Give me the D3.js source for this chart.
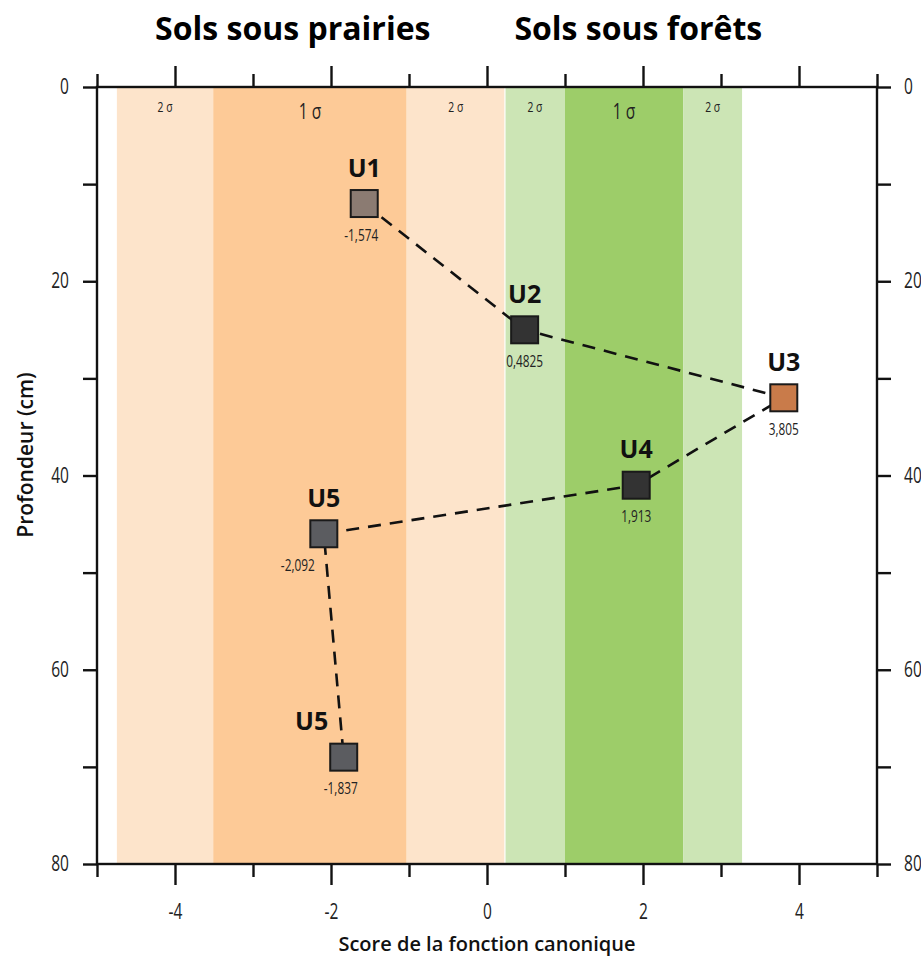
<!DOCTYPE html>
<html>
<head>
<meta charset="utf-8">
<script src="https://cdn.jsdelivr.net/npm/d3@7"></script>
<style>
  body { margin: 0; background: #fff; }
  svg { display: block; font-family: "Open Sans", sans-serif; }
</style>
</head>
<body>
<div id="chart"></div>
<script>
// Horizons (labels, canonical score, depth in cm)
const horizons = ["U1", "U2", "U3", "U4", "U5", "U5"];
const scores = [-1.574, 0.4825, 3.805, 1.913, -2.092, -1.837];
const depths = [12, 25, 32, 41, 46, 69];
const scoreLabels = ["-1,574", "0,4825", "3,805", "1,913", "-2,092", "-1,837"];
const markerColors = ["#8b7b72", "#333333", "#c97b4a", "#333333", "#5b5c60", "#5b5c60"];

// Sigma bands (start, end on the score axis)
const bandStarts = [-4.745, -3.51, -1.03, 0.23, 1.0, 2.515];
const bandEnds = [-3.51, -1.03, 0.23, 1.0, 2.515, 3.27];
const bandLabels = ["2 σ", "1 σ", "2 σ", "2 σ", "1 σ", "2 σ"];
const bandColors = ["#fde4cb", "#fdca97", "#fde4cb", "#cce5b5", "#9dcd69", "#cce5b5"];

const groupTitles = ["Sols sous prairies", "Sols sous forêts"];
const groupCenters = [-2.49, 1.94];

const xTicks = [-4, -2, 0, 2, 4];
const yTicks = [0, 20, 40, 60, 80];

const width = 921, height = 962;
const margin = { top: 87, right: 44, bottom: 98, left: 97 };
const narrow = 0.74; // horizontal squeeze to mimic a condensed face

const svg = d3.select("#chart").append("svg")
  .attr("width", width)
  .attr("height", height);

const x = d3.scaleLinear().domain([-5, 5]).range([margin.left, width - margin.right]);
const y = d3.scaleLinear().domain([0, 80]).range([margin.top, height - margin.bottom]);

// condensed text helper
function condensedText(g, px, py, str, size, anchor) {
  g.append("text")
    .attr("transform", `translate(${px},${py}) scale(${narrow},1)`)
    .attr("text-anchor", anchor || "middle")
    .attr("font-size", size)
    .attr("fill", "#222")
    .text(str);
}

// bands
svg.append("g").selectAll("rect")
  .data(bandStarts)
  .join("rect")
  .attr("x", (d) => x(d))
  .attr("y", y(0))
  .attr("width", (d, i) => x(bandEnds[i]) - x(d))
  .attr("height", y(80) - y(0))
  .attr("fill", (d, i) => bandColors[i]);

// thin white gap between orange and green groups
svg.append("line")
  .attr("x1", x(bandStarts[3])).attr("x2", x(bandStarts[3]))
  .attr("y1", y(0)).attr("y2", y(80))
  .attr("stroke", "#fff").attr("stroke-width", 1.2);

const sigmaG = svg.append("g");
bandLabels.forEach((d, i) => {
  const big = d.startsWith("1");
  condensedText(sigmaG, (x(bandStarts[i]) + x(bandEnds[i])) / 2,
    big ? y(0) + 32 : y(0) + 25, d, big ? 21 : 14);
});

// axes: major ticks every 2 / 20, minor ticks every 1 / 10
const xMinor = d3.range(-5, 5.01, 1).filter((v) => v % 2 !== 0);
const yMinor = d3.range(10, 80, 20);

function xAxis(g, orient) {
  const major = orient === "top" ? d3.axisTop(x) : d3.axisBottom(x);
  const minor = orient === "top" ? d3.axisTop(x) : d3.axisBottom(x);
  g.append("g").call(major.tickValues(xTicks).tickSize(21)
    .tickFormat(orient === "top" ? "" : (d) => String(d)));
  g.append("g").call(minor.tickValues(xMinor).tickSize(13).tickFormat(""));
  if (orient === "bottom") {
    g.selectAll(".tick text")
      .attr("y", 55).attr("dy", 0)
      .attr("transform", `scale(${narrow},1)`);
  }
}

function yAxis(g, orient) {
  const major = orient === "left" ? d3.axisLeft(y) : d3.axisRight(y);
  const minor = orient === "left" ? d3.axisLeft(y) : d3.axisRight(y);
  g.append("g").call(major.tickValues(yTicks).tickSize(14));
  g.append("g").call(minor.tickValues(yMinor).tickSize(14).tickFormat(""));
  g.selectAll(".tick text")
    .attr("x", (orient === "left" ? -28 : 27) / narrow)
    .attr("transform", `scale(${narrow},1)`);
}

svg.append("g").attr("class", "axis").attr("transform", `translate(0,${y(80)})`).call((g) => xAxis(g, "bottom"));
svg.append("g").attr("class", "axis").attr("transform", `translate(0,${y(0)})`).call((g) => xAxis(g, "top"));
svg.append("g").attr("class", "axis").attr("transform", `translate(${x(-5)},0)`).call((g) => yAxis(g, "left"));
svg.append("g").attr("class", "axis").attr("transform", `translate(${x(5)},0)`).call((g) => yAxis(g, "right"));

svg.selectAll(".axis path.domain").remove();
svg.selectAll(".axis .tick line").attr("stroke", "#111").attr("stroke-width", 2.4);
svg.selectAll(".axis text").attr("font-size", 21).attr("fill", "#222")
  .attr("font-family", "Open Sans, sans-serif");

// frame
svg.append("rect")
  .attr("x", x(-5)).attr("y", y(0))
  .attr("width", x(5) - x(-5)).attr("height", y(80) - y(0))
  .attr("fill", "none").attr("stroke", "#111").attr("stroke-width", 2.4);

// connecting dashed line
const line = d3.line().x((d) => x(d[0])).y((d) => y(d[1]));
svg.append("path")
  .datum(scores.map((s, i) => [s, depths[i]]))
  .attr("d", line)
  .attr("fill", "none")
  .attr("stroke", "#111")
  .attr("stroke-width", 2.6)
  .attr("stroke-dasharray", "13,9");

// markers
const size = 27;
svg.append("g").selectAll("rect")
  .data(scores)
  .join("rect")
  .attr("x", (d) => x(d) - size / 2)
  .attr("y", (d, i) => y(depths[i]) - size / 2)
  .attr("width", size)
  .attr("height", size)
  .attr("fill", (d, i) => markerColors[i])
  .attr("stroke", "#1a1a1a")
  .attr("stroke-width", 2);

// horizon names; the lower U5 label sits to the left of its marker
const nameShift = [0, 0, 0, 0, 0, -32];
const valueShift = [-3, 0, 0, 0, -26, -3];
svg.append("g").selectAll("text")
  .data(horizons)
  .join("text")
  .attr("x", (d, i) => x(scores[i]) + nameShift[i])
  .attr("y", (d, i) => y(depths[i]) - 27)
  .attr("text-anchor", "middle")
  .attr("font-weight", "bold")
  .attr("font-size", 25)
  .attr("fill", "#111")
  .text((d) => d);

const valueG = svg.append("g");
scoreLabels.forEach((d, i) => {
  condensedText(valueG, x(scores[i]) + valueShift[i], y(depths[i]) + 37, d, 16);
});

// group titles
svg.append("g").selectAll("text")
  .data(groupTitles)
  .join("text")
  .attr("x", (d, i) => x(groupCenters[i]))
  .attr("y", 40)
  .attr("text-anchor", "middle")
  .attr("font-weight", "bold")
  .attr("font-size", 32)
  .attr("fill", "#000")
  .text((d) => d);

// axis titles
svg.append("text")
  .attr("x", x(0))
  .attr("y", 951)
  .attr("text-anchor", "middle")
  .attr("font-weight", 600)
  .attr("font-size", 20)
  .attr("fill", "#111")
  .text("Score de la fonction canonique");

svg.append("text")
  .attr("transform", `translate(33,455) rotate(-90)`)
  .attr("text-anchor", "middle")
  .attr("font-weight", 600)
  .attr("font-size", 21)
  .attr("fill", "#111")
  .text("Profondeur (cm)");
</script>
</body>
</html>
